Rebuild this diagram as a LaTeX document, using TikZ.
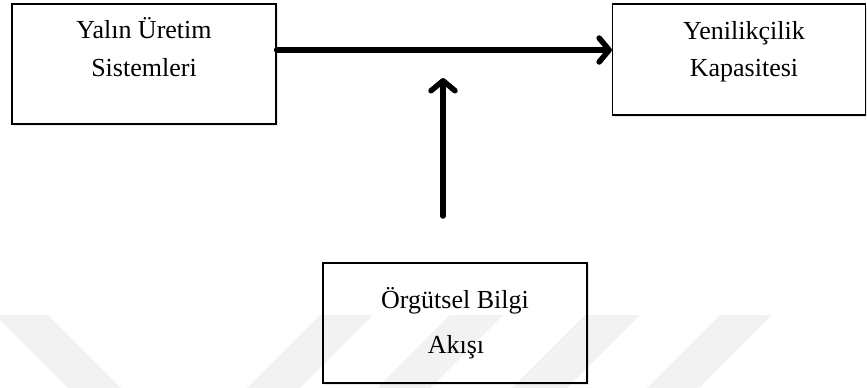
\documentclass[tikz,border=0pt]{standalone}
\usepackage{fontspec}
\setmainfont{Liberation Serif}
\usetikzlibrary{arrows.meta,shadows}
\begin{document}
\begin{tikzpicture}[x=1pt,y=-1pt,
  box/.style={draw=black, fill=white, line width=1.2pt, inner sep=0pt,
    drop shadow={opacity=0.18, shadow xshift=2pt, shadow yshift=-2pt}},
  lbl/.style={font=\fontsize{26}{30}\selectfont, anchor=base, inner sep=0pt},
  conn/.style={line width=5.5pt, line cap=round,
    -{Straight Barb[length=10pt,width=24pt,round]}},
  wm/.style={fill=gray!10, draw=none}]
\useasboundingbox (0,0) rectangle (867,388);
% boxes
\node[box, minimum width=264pt, minimum height=120pt] (yus) at (144,64) {};
\node[box, minimum width=253pt, minimum height=111pt] (yk) at (739,59.5) {};
\node[box, minimum width=264pt, minimum height=120pt] (oba) at (455,323) {};
% faint watermark bands
\begin{scope}[blend mode=multiply]
\path[wm] (-5,315) -- (48,315) -- (121,388) -- (68,388) -- cycle;
\path[wm] (320,315) -- (373,315) -- (300,388) -- (247,388) -- cycle;
\path[wm] (450,315) -- (503,315) -- (430,388) -- (377,388) -- cycle;
\path[wm] (585,315) -- (640,315) -- (567,388) -- (512,388) -- cycle;
\path[wm] (720,315) -- (772,315) -- (699,388) -- (647,388) -- cycle;
\end{scope}
% texts
\node[lbl] (t1) at (144,38) {Yalın Üretim};
\node[lbl] (t2) at (144,76) {Sistemleri};
\node[lbl] (t3) at (744,39) {Yenilikçilik};
\node[lbl] (t4) at (744,76) {Kapasitesi};
\node[lbl] (t5) at (455,308) {Örgütsel Bilgi};
\node[lbl] (t6) at (456,353) {Akışı};
% connectors
\coordinate (hs) at (yus.east |- 0,50);
\coordinate (he) at (yk.west |- 0,50);
\draw[conn] (hs) -- (he);
\coordinate (vs) at (443,216);
\coordinate (ve) at (443,78);
\draw[conn] (vs) -- (ve);
\end{tikzpicture}
\end{document}
